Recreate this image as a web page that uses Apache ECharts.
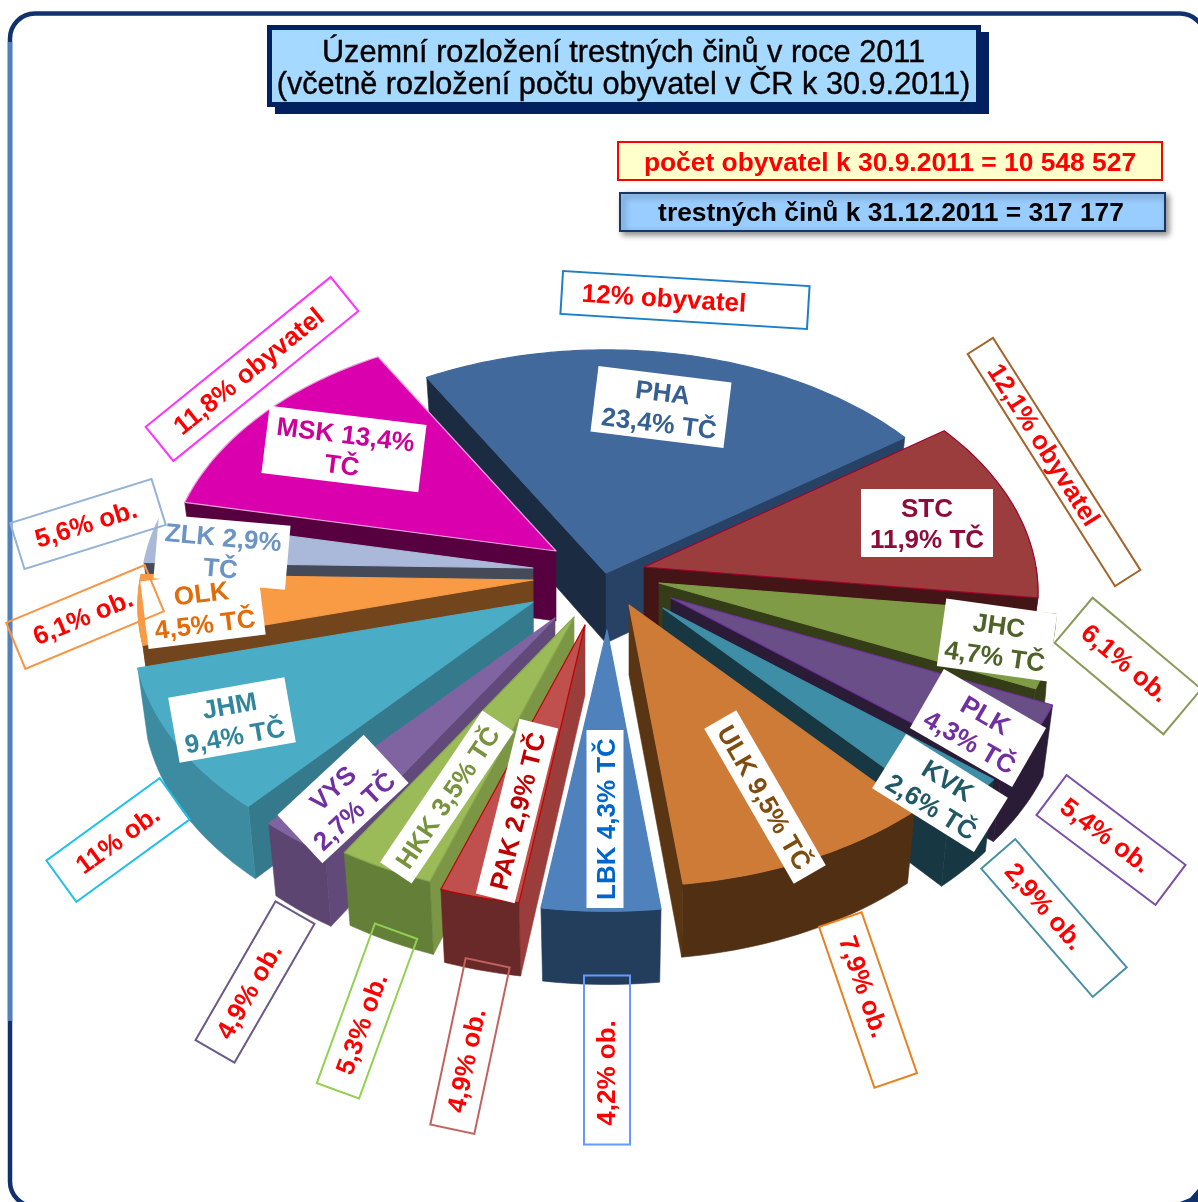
<!DOCTYPE html>
<html><head><meta charset="utf-8">
<style>html,body{margin:0;padding:0;background:#fff}#c{width:1198px;height:1202px}</style>
<script src="https://cdn.jsdelivr.net/npm/echarts@6/dist/echarts.min.js"></script>
</head><body><div id="c"></div>
<script>
const regions    = ['PHA','STC','JHC','PLK','KVK','ULK','LBK','PAK','HKK','VYS','JHM','OLK','ZLK','MSK'];
const crimeShare = [23.4,11.9,4.7,4.3,2.6,9.5,4.3,2.9,3.5,2.7,9.4,4.5,2.9,13.4];
const popShare   = [12,12.1,6.1,5.4,2.9,7.9,4.2,4.9,5.3,4.9,11,6.1,5.6,11.8];
const titleLines = ['Územní rozložení trestných činů v roce 2011','(včetně rozložení počtu obyvatel v ČR k 30.9.2011)'];
const popTotal   = 'počet obyvatel k 30.9.2011 = 10 548 527';
const crimeTotal = 'trestných činů k 31.12.2011 = 317 177';

/* ---- styling ---- */
const topColor  = ['#41699c','#9c3d3d','#7f9b45','#6a4e87','#3d8ea6','#cd7b37','#4f81bd','#c0504d','#9bbb59','#8064a2','#4bacc6','#f99a45','#aab9d9','#db00ad'];
const arcColor  = ['#233d5c','#431516','#353d18','#2a1c37','#173742','#512f13','#233d5c','#6a2929','#647f37','#5c4570','#3c8ba0','#72451d','#454a59','#57003f'];
const startWall = ['#1a2b42','#431516','#353d18','#2a1c37','#173742','#512f13','#233d5c','#9b3d3b','#7b9645','#614a79','#347a8c','#72451d','#454a59','#57003f'];
const endWall   = ['#274264','#431516','#353d18','#2a1c37','#173742','#5a3514','#233d5c','#6a2929','#647f37','#5c4570','#3c8ba0','#72451d','#454a59','#57003f'];
const edgeColor = ['#41699c','#a0002d','#7f9b45','#7030a0','#3d8ea6','#cd7b37','#4f81bd','#c00000','#8aa84e','#8064a2','#4bacc6','#f99a45','#aab9d9','#e8a0d8'];
const textColor = ['#376092','#8e0b3a','#4f6228','#7030a0','#215967','#7f4d0e','#0066cc','#c00000','#77933c','#7030a0','#31859c','#e36c0a','#6b93c4','#cc0099'];
const boxColor  = ['#1f7fc4','#a5642b','#8a9a5b','#7a4fa8','#4a90a4','#e8801f','#6699ff','#c0635f','#92d050','#6b5a86','#1fc0ea','#f79646','#95b3d7','#ff33ff'];

/* ---- exploded-pie geometry ---- */
const pieCentre = [600,590], startDeg = -30, tilt = 0.63, persp = 0.104, depth = 70, shrink = 0.975, baseR = 400;
const sliceRadius = [390,392,395,400,400,400,400,400,400,400,398,393,390,387];
const sliceOffset = [[6,-17],[44,-23],[59,-7],[71,8],[63,18],[29,15],[7,40],[-15,35],[-26,27],[-45,28],[-67,12],[-67,-10],[-67,-22],[-44,-39]];
const paintOrder  = [0,13,1,12,2,11,3,10,4,9,5,8,7,6];

const total = crimeShare.reduce((a,b)=>a+b,0);
const cumStart = []; crimeShare.reduce((acc,v,i)=>{cumStart[i]=acc;return acc+v;},0);
const rad = d => d*Math.PI/180;
const fmt = v => String(v).replace('.',',');

function renderSlice(params, api){
  const i = api.value(0);
  const a0 = startDeg + cumStart[i]/total*360, a1 = a0 + api.value(1)/total*360;
  const ax = pieCentre[0]+sliceOffset[i][0], ay = pieCentre[1]+sliceOffset[i][1], r = sliceRadius[i];
  const rim = d => {
    const wx = Math.sin(rad(d))*r, wy = -Math.cos(rad(d))*r;
    const s = 1/(1-persp*wy/baseR);
    return {x:ax+wx*s, y:ay+wy*tilt*s, s};
  };
  const low = p => [ax+(p.x-ax)*shrink, p.y+depth*(1+0.4*(p.s-1))];
  const up = p => [p.x,p.y];
  const poly = (points,fill,stroke) => ({type:'polygon',shape:{points},silent:true,
    style:{fill,stroke:stroke||fill,lineWidth:stroke?1.2:0.6,lineJoin:'round'}});
  const kids = [];
  const pa = rim(a0), pb = rim(a1), apexTop=[ax,ay], apexLow=[ax,ay+depth];
  if (-Math.cos(rad(a0-90)) > 0) kids.push(poly([apexTop,up(pa),low(pa),apexLow],startWall[i]));
  if (-Math.cos(rad(a1+90)) > 0) kids.push(poly([apexTop,up(pb),low(pb),apexLow],endWall[i]));
  const from = Math.max(a0,90), to = Math.min(a1,270);
  if (to > from){
    const t=[],b=[];
    for(let d=from;;d+=1.5){const q=rim(Math.min(d,to));t.push(up(q));b.unshift(low(q));if(d>=to)break;}
    kids.push(poly(t.concat(b),arcColor[i]));
  }
  const topPts=[apexTop];
  for(let d=a0;;d+=1){const q=rim(Math.min(d,a1));topPts.push(up(q));if(d>=a1)break;}
  kids.push(poly(topPts,topColor[i],edgeColor[i]));
  return {type:'group',children:kids};
}

/* ---- label placement: [slice, cx, cy, width, height, degrees clockwise, line layout] ---- */
const innerLabels = [
 [0,661,407,134,66,7,'two'],[1,927,523,132,68,0,'two'],[2,997,640,112,68,8,'two'],[3,978,728,118,68,30,'two'],
 [4,940,793,120,64,32,'two'],[5,765,797,179,37,60,'one'],[6,605,819,178,37,-90,'one'],[7,517,811,180,40,-76,'one'],
 [8,447,797,183,38,-56,'one'],[9,343,799,118,66,-43,'two'],[10,232,720,118,66,-10,'two'],[11,203,608,118,68,-7,'two'],
 [12,222,552,132,64,5,'wrap'],[13,344,449,158,68,7,'wrap']];
/* [slice, cx, cy, width, height, degrees clockwise, text shift along the box] */
const outerLabels = [
 [0,685,300,247,43,3.5,-21],[1,1054,462,275,30,57.6,-20],[2,1128,666,142,59,40,-4],[3,1111,840,149,50,37,-7],
 [4,1054,918,170,45,49,-15],[5,868,1000,170,45,71,-14],[6,607,1060,169,46,-90,-13],[7,470,1046,170,45,-78,-15],
 [8,367,1011,170,45,-70,-14],[9,255,982,160,45,-60,-11],[10,118,840,140,51,-36,0],[11,85,617,150,50,-22.6,-2],
 [12,88,524,148,48,-17.3,-2],[13,252,369,238,44,-39,-4]];

const F = '"Liberation Sans",Arial,sans-serif';
const g = [];
function rotBox(cx,cy,w,h,deg,boxStyle,text,textStyle,tx,ty,z){
  g.push({type:'group',x:cx,y:cy,rotation:-deg*Math.PI/180,silent:true,children:[
    {type:'rect',shape:{x:-w/2,y:-h/2,width:w,height:h},style:boxStyle,z},
    {type:'text',x:tx||0,y:ty,style:Object.assign({text,align:'center',verticalAlign:'middle'},textStyle),z:z+1}
  ]});
}
/* frame */
g.push({type:'polygon',shape:{points:[[1180,1202],[1190,1198],[1198,1189],[1198,1202]]},style:{fill:'#10316b'},z:-11,silent:true});
g.push({type:'rect',shape:{x:10,y:13.5,width:1195,height:1193,r:25},style:{fill:'none',stroke:'#10316b',lineWidth:4.5},z:-10,silent:true});
g.push({type:'line',shape:{x1:10,y1:42,x2:10,y2:1021},style:{stroke:'#4f81bd',lineWidth:4.5},z:-9,silent:true});
/* title */
g.push({type:'rect',shape:{x:275,y:32,width:714,height:82},style:{fill:'#002060'},z:-8,silent:true});
g.push({type:'rect',shape:{x:269.5,y:27.5,width:709,height:77},style:{fill:'#a6d9ff',stroke:'#002060',lineWidth:5},z:-7,silent:true});
const titleStyle = {font:'30.7px '+F,fill:'#000',stroke:'#000',lineWidth:0.4,align:'center',verticalAlign:'middle'};
g.push({type:'text',x:623.5,y:53.5,style:Object.assign({text:titleLines[0]},titleStyle),z:-6,silent:true});
g.push({type:'text',x:623.5,y:86,style:Object.assign({text:titleLines[1]},titleStyle),z:-6,silent:true});
/* totals */
g.push({type:'rect',shape:{x:618,y:142,width:544,height:38},style:{fill:'#ffffcc',stroke:'#ff0000',lineWidth:2},z:-8,silent:true});
g.push({type:'text',x:890,y:164,style:{text:popTotal,font:'bold 26.4px '+F,fill:'#ff0000',align:'center',verticalAlign:'middle'},z:-6,silent:true});
g.push({type:'rect',shape:{x:620,y:193,width:545,height:38},style:{fill:'#99ccff',stroke:'#17375e',lineWidth:2,shadowColor:'rgba(0,0,0,0.45)',shadowBlur:6,shadowOffsetX:3,shadowOffsetY:3},z:-8,silent:true});
g.push({type:'text',x:891,y:214,style:{text:crimeTotal,font:'bold 26.4px '+F,fill:'#000',align:'center',verticalAlign:'middle'},z:-6,silent:true});

innerLabels.forEach(([i,cx,cy,w,h,deg,mode])=>{
  const v = fmt(crimeShare[i])+'%';
  const t = mode==='one' ? `${regions[i]} ${v} TČ` : mode==='two' ? `${regions[i]}\n${v} TČ` : `${regions[i]} ${v}\nTČ`;
  rotBox(cx,cy,w,h,deg,{fill:'#fff'},t,{font:'bold 26px '+F,fill:textColor[i],lineHeight:31},0,2.5,10);
});
outerLabels.forEach(([i,cx,cy,w,h,deg,tx])=>{
  const long = i===0||i===1||i===13;
  const t = fmt(popShare[i])+'% '+(long?'obyvatel':'ob.');
  rotBox(cx,cy,w,h,deg,{fill:'none',stroke:boxColor[i],lineWidth:2},t,{font:'bold 26px '+F,fill:'#ff0000'},tx,1,20);
});

const chart = echarts.init(document.getElementById('c'),null,{renderer:'canvas'});
chart.setOption({
  animation:false,
  graphic:{elements:g},
  series:[{type:'custom',coordinateSystem:'none',silent:true,z:0,renderItem:renderSlice,
    data:paintOrder.map(i=>[i,crimeShare[i]])}]
});
</script></body></html>
